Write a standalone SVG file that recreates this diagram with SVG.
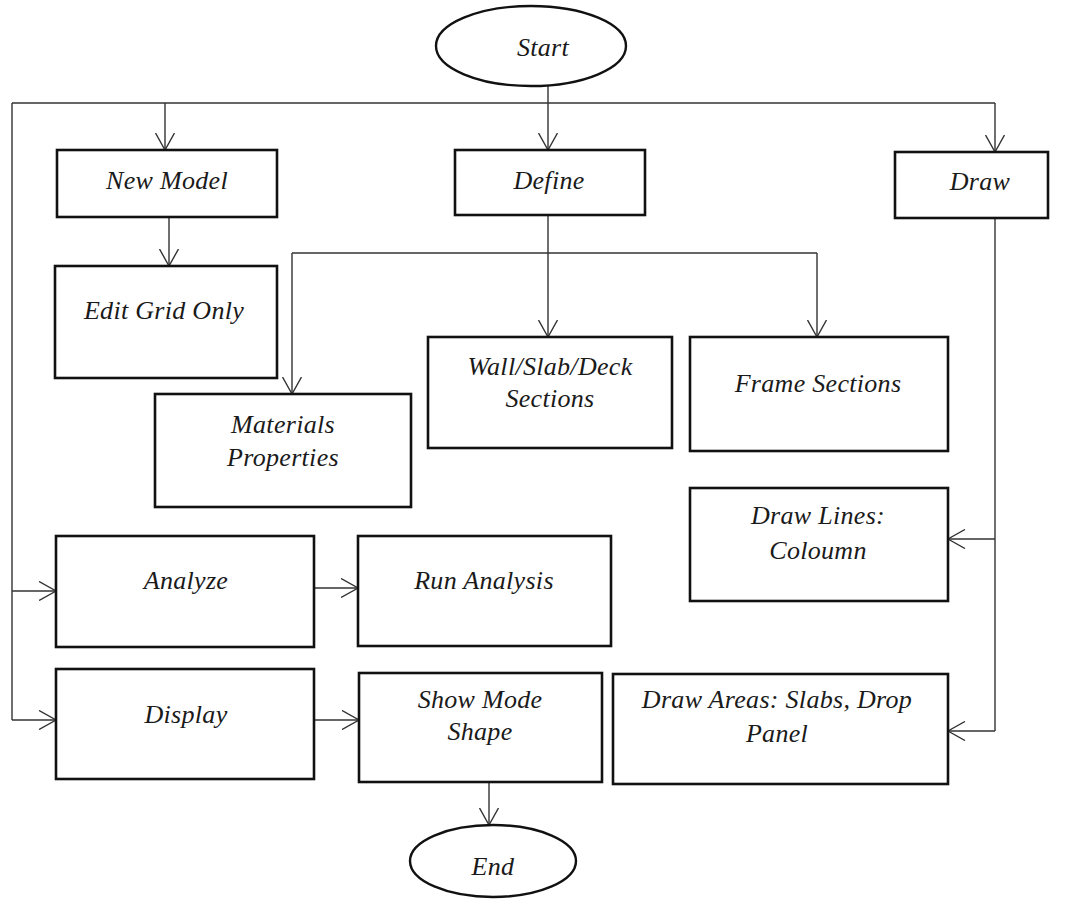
<svg xmlns="http://www.w3.org/2000/svg" width="1080" height="899" viewBox="0 0 1080 899">
<style>
.box{fill:#fff;stroke:#111;stroke-width:2.6}
.term{fill:#fff;stroke:#111;stroke-width:2.4}
.t{font-family:"Liberation Serif","Times New Roman",serif;font-style:italic;font-size:26px;fill:#1a1a1a;text-anchor:middle;letter-spacing:0.3px}
.c{fill:none;stroke:#333;stroke-width:1.4}
</style>
<defs>
<marker id="ah" viewBox="0 0 18 20" refX="17.5" refY="10" markerWidth="18" markerHeight="20" markerUnits="userSpaceOnUse" orient="auto">
<path d="M0.5,0.5 L17.5,10 L0.5,19.5" fill="none" stroke="#333" stroke-width="1.4"/>
</marker>
</defs>
<rect width="1080" height="899" fill="#fff"/>
<g id="connectors">
<path class="c" d="M548,86 L548,150" marker-end="url(#ah)"/>
<path class="c" d="M12,103 L995,103"/>
<path class="c" d="M165,103 L165,150" marker-end="url(#ah)"/>
<path class="c" d="M995,103 L995,152" marker-end="url(#ah)"/>
<path class="c" d="M12,103 L12,720"/>
<path class="c" d="M12,591 L56,591" marker-end="url(#ah)"/>
<path class="c" d="M12,720 L56,720" marker-end="url(#ah)"/>
<path class="c" d="M169,217 L169,266" marker-end="url(#ah)"/>
<path class="c" d="M548,215 L548,337" marker-end="url(#ah)"/>
<path class="c" d="M292,253 L817,253"/>
<path class="c" d="M292,253 L292,394" marker-end="url(#ah)"/>
<path class="c" d="M817,253 L817,337" marker-end="url(#ah)"/>
<path class="c" d="M995,218 L995,731"/>
<path class="c" d="M995,539 L948,539" marker-end="url(#ah)"/>
<path class="c" d="M995,731 L948,731" marker-end="url(#ah)"/>
<path class="c" d="M314,588 L358,588" marker-end="url(#ah)"/>
<path class="c" d="M314,720 L359,720" marker-end="url(#ah)"/>
<path class="c" d="M489,782 L489,825" marker-end="url(#ah)"/>
</g>
<g id="start"><ellipse class="term" cx="531" cy="46" rx="95" ry="40"/><text class="t" x="543" y="56">Start</text></g>
<g id="new-model"><rect class="box" x="57" y="150" width="220" height="67"/><text class="t" x="167" y="189">New Model</text></g>
<g id="define"><rect class="box" x="455" y="150" width="190" height="65"/><text class="t" x="549" y="189">Define</text></g>
<g id="draw"><rect class="box" x="895" y="152" width="153" height="66"/><text class="t" x="980" y="190">Draw</text></g>
<g id="edit-grid"><rect class="box" x="55" y="266" width="222" height="112"/><text class="t" x="164" y="319">Edit Grid Only</text></g>
<g id="materials"><rect class="box" x="155" y="394" width="256" height="113"/><text class="t" x="283" y="433">Materials</text><text class="t" x="283" y="466">Properties</text></g>
<g id="wall-slab"><rect class="box" x="428" y="337" width="244" height="111"/><text class="t" x="550" y="375">Wall/Slab/Deck</text><text class="t" x="550" y="407">Sections</text></g>
<g id="frame"><rect class="box" x="690" y="337" width="258" height="114"/><text class="t" x="818" y="392">Frame Sections</text></g>
<g id="draw-lines"><rect class="box" x="690" y="488" width="258" height="113"/><text class="t" x="818" y="524">Draw Lines:</text><text class="t" x="818" y="559">Coloumn</text></g>
<g id="analyze"><rect class="box" x="56" y="536" width="258" height="111"/><text class="t" x="186" y="589">Analyze</text></g>
<g id="run-analysis"><rect class="box" x="358" y="536" width="253" height="110"/><text class="t" x="484" y="589">Run Analysis</text></g>
<g id="display"><rect class="box" x="56" y="669" width="258" height="110"/><text class="t" x="186" y="723">Display</text></g>
<g id="show-mode"><rect class="box" x="359" y="673" width="243" height="109"/><text class="t" x="480" y="708">Show Mode</text><text class="t" x="480" y="740">Shape</text></g>
<g id="draw-areas"><rect class="box" x="613" y="674" width="335" height="110"/><text class="t" x="777" y="708">Draw Areas: Slabs, Drop</text><text class="t" x="777" y="742">Panel</text></g>
<g id="end"><ellipse class="term" cx="493" cy="861" rx="83" ry="36"/><text class="t" x="493" y="875">End</text></g>
</svg>
